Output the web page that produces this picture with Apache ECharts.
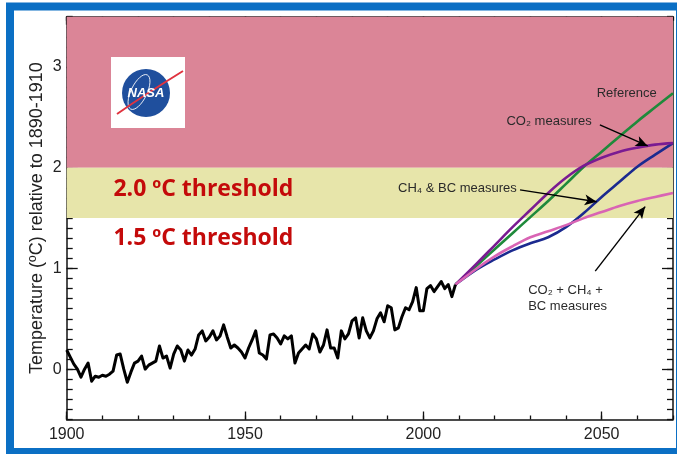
<!DOCTYPE html>
<html><head><meta charset="utf-8">
<script src="https://cdn.jsdelivr.net/npm/echarts@6/dist/echarts.min.js"></script>
<style>html,body{margin:0;padding:0;background:#fff}#c{width:677px;height:454px}</style>
</head><body><div id="c"></div>
<script>
// ---------- data ----------
const obsStartYear = 1900;
const obsValues = [
 0.19,0.12,0.05,0.00,-0.08,0.00,0.06,-0.12,-0.07,-0.08,
 -0.06,-0.07,-0.05,-0.02,0.14,0.15,0.00,-0.13,-0.03,0.06,
 0.08,0.13,0.00,0.04,0.06,0.08,0.23,0.11,0.13,0.01,
 0.15,0.23,0.19,0.08,0.19,0.14,0.20,0.34,0.38,0.28,
 0.32,0.38,0.29,0.33,0.44,0.32,0.21,0.24,0.21,0.17,
 0.11,0.21,0.29,0.38,0.16,0.14,0.10,0.34,0.35,0.31,
 0.25,0.33,0.30,0.33,0.06,0.16,0.20,0.24,0.20,0.35,
 0.30,0.17,0.24,0.39,0.21,0.21,0.11,0.38,0.30,0.35,
 0.48,0.51,0.31,0.51,0.38,0.31,0.38,0.50,0.56,0.47,
 0.63,0.61,0.39,0.41,0.52,0.61,0.59,0.67,0.81,0.58,
 0.58,0.80,0.83,0.77,0.82,0.87,0.80,0.84,0.72,0.84
];
const projYears   = [2009,2015,2020,2025,2030,2035,2040,2045,2050,2055,2060,2065,2070];
const refValues   = [0.84,1.03,1.19,1.35,1.51,1.67,1.84,2.01,2.16,2.31,2.46,2.60,2.74];
const co2Values   = [0.84,1.05,1.23,1.41,1.58,1.75,1.90,2.02,2.10,2.16,2.20,2.23,2.245];
const ch4bcValues = [0.84,0.99,1.09,1.18,1.25,1.31,1.41,1.55,1.71,1.86,2.01,2.13,2.245];
const allValues   = [0.84,1.00,1.12,1.22,1.31,1.37,1.43,1.50,1.56,1.62,1.67,1.71,1.75];
const xTickLabels = [1900,1950,2000,2050];
const yTickLabels = [0,1,2,3];
const pinkBand = [2, 3.5];
const yellowBand = [1.5, 2];
const thresholdLabels = [
  {text:'2.0 ºC threshold', x:1913.1, y:1.78},
  {text:'1.5 ºC threshold', x:1913.1, y:1.30}
];
const seriesLabels = [
  {text:'Reference', x:2048.6, y:2.74},
  {text:'CO\u2082 measures', x:2023.3, y:2.458},
  {text:'CH\u2084 & BC measures', x:1992.9, y:1.796},
  {text:'CO\u2082 + CH\u2084 +\nBC measures', x:2029.4, y:0.707}
];
const arrows = [
  [[2049.5,2.425],[2062.9,2.217]],
  [[2027.1,1.78],[2048.6,1.663]],
  [[2048.2,0.974],[2062.2,1.614]]
];

// ---------- build ----------
const obsData = obsValues.map((v,i)=>[obsStartYear+i, v]);
const proj = vals => projYears.map((y,i)=>[y, vals[i]]);
const AX = '#111', LAB = '#222', FONT = 'Liberation Sans';
const lineSt = {color:AX, width:1.5};
const tickSt = {color:AX, width:1.3};

function xAx(pos, major, showLine, labels){
  const a = {type:'value', position:pos, min:1900, max:2070, splitLine:{show:false},
    axisLine:{show:showLine, onZero:false, lineStyle:lineSt},
    axisLabel:{show:false}};
  if (major) a.axisTick = {show:true, inside:true, length:8, customValues:xTickLabels, lineStyle:tickSt};
  else { a.interval = 10; a.axisTick = {show:true, inside:true, length:4, lineStyle:tickSt}; }
  if (labels) a.axisLabel = {show:true, customValues:xTickLabels, fontSize:16, color:LAB, margin:7,
    fontFamily:FONT, formatter:v=>String(v)};
  return a;
}
function yAx(pos, major, showLine, labels){
  const a = {type:'value', position:pos, min:-0.5, max:3.5, splitLine:{show:false},
    axisLine:{show:showLine, onZero:false, lineStyle:lineSt},
    axisLabel:{show:false}};
  if (major) a.axisTick = {show:true, inside:true, length:11, customValues:yTickLabels, lineStyle:tickSt};
  else { a.interval = 0.1; a.axisTick = {show:true, inside:true, length:6, lineStyle:tickSt}; }
  if (labels){
    a.axisLabel = {show:true, customValues:yTickLabels, fontSize:16, color:LAB, margin:5,
      fontFamily:FONT, formatter:v=>String(v)};
    a.name = 'Temperature (ºC) relative to 1890-1910';
    a.nameLocation = 'middle';
    a.nameGap = 21;
    a.nameMoveOverlap = false;
    a.nameTextStyle = {fontSize:18, color:LAB, fontFamily:FONT};
  }
  return a;
}

const chart = echarts.init(document.getElementById('c'), null, {renderer:'canvas'});
const lineSeries = (name, data, color, extra) => Object.assign({
  name, type:'line', data, showSymbol:false, symbol:'none', smooth:0.35,
  lineStyle:{color, width:2.6}, z:3, silent:true
}, extra||{});

const option = {
  animation:false,
  backgroundColor:'#ffffff',
  grid:{left:66.7, right:4, top:16.7, bottom:34.5, containLabel:false},
  xAxis:[xAx('bottom',false,true,true), xAx('bottom',true,false,false), xAx('top',false,true,false), xAx('top',true,false,false)],
  yAxis:[yAx('left',false,true,true), yAx('left',true,false,false), yAx('right',false,true,false), yAx('right',true,false,false)],
  series:[
    {name:'bands', type:'line', data:[], silent:true, z:1,
     markArea:{silent:true, data:[
       [{yAxis:pinkBand[0], itemStyle:{color:'#db8597'}},{yAxis:pinkBand[1]}],
       [{yAxis:yellowBand[0], itemStyle:{color:'#e7e5aa'}},{yAxis:yellowBand[1]}]
     ]}},
    lineSeries('Reference', proj(refValues), '#1f8a3b'),
    lineSeries('CO2 measures', proj(co2Values), '#7a1b92', {z:4}),
    lineSeries('CH4 & BC measures', proj(ch4bcValues), '#1b2a8f'),
    lineSeries('CO2 + CH4 + BC measures', proj(allValues), '#d964b4', {z:5}),
    {name:'Observed', type:'line', data:obsData, showSymbol:false, symbol:'none', smooth:false,
     lineStyle:{color:'#000', width:3, join:'round'}, z:6, silent:true},
    {name:'arrows', type:'line', data:[], silent:true, z:7,
     markLine:{silent:true, symbol:['none','arrow'], symbolSize:[8,12], label:{show:false},
       lineStyle:{color:'#000', width:1.4, type:'solid'},
       data: arrows.map(a=>[{coord:a[0]},{coord:a[1]}])}}
  ]
};
chart.setOption(option);

const px = (x,y) => chart.convertToPixel({gridIndex:0}, [x,y]);
const graphics = [];
// NASA logo
graphics.push(
  {type:'rect', z:50, shape:{x:111,y:57,width:74,height:71}, style:{fill:'#ffffff'}},
  {type:'circle', z:51, shape:{cx:146,cy:93,r:24}, style:{fill:'#1f4f9d'}},
  {type:'ellipse', z:52, x:139, y:92, rotation:-0.45, shape:{cx:0,cy:0,rx:8,ry:19}, style:{fill:null, stroke:'#ffffff', lineWidth:0.8}},
  {type:'bezierCurve', z:53, shape:{x1:117,y1:114,cpx1:140,cpy1:98,cpx2:162,cpy2:84,x2:183,y2:71}, style:{fill:null, stroke:'#e0333f', lineWidth:2}},
  {type:'text', z:54, style:{text:'NASA', x:146, y:93, align:'center', verticalAlign:'middle', fill:'#ffffff', font:'italic bold 13px "Liberation Sans"'}}
);
thresholdLabels.forEach(t=>{
  const p = px(t.x,t.y);
  graphics.push({type:'text', z:50, style:{text:t.text, x:p[0], y:p[1], align:'left', verticalAlign:'middle',
    fill:'#c40a0a', font:'bold 23px "Open Sans"'}});
});
seriesLabels.forEach(t=>{
  const p = px(t.x,t.y);
  graphics.push({type:'text', z:50, style:{text:t.text, x:p[0], y:p[1], align:'left', verticalAlign:'middle',
    fill:'#2a2a2a', font:'13px "Liberation Sans"', lineHeight:16}});
});
// blue frame
graphics.push({type:'rect', z:100, shape:{x:10,y:6.5,width:670,height:445.5}, style:{fill:null, stroke:'#0b6fc4', lineWidth:8}});
chart.setOption({graphic:graphics});
</script></body></html>
